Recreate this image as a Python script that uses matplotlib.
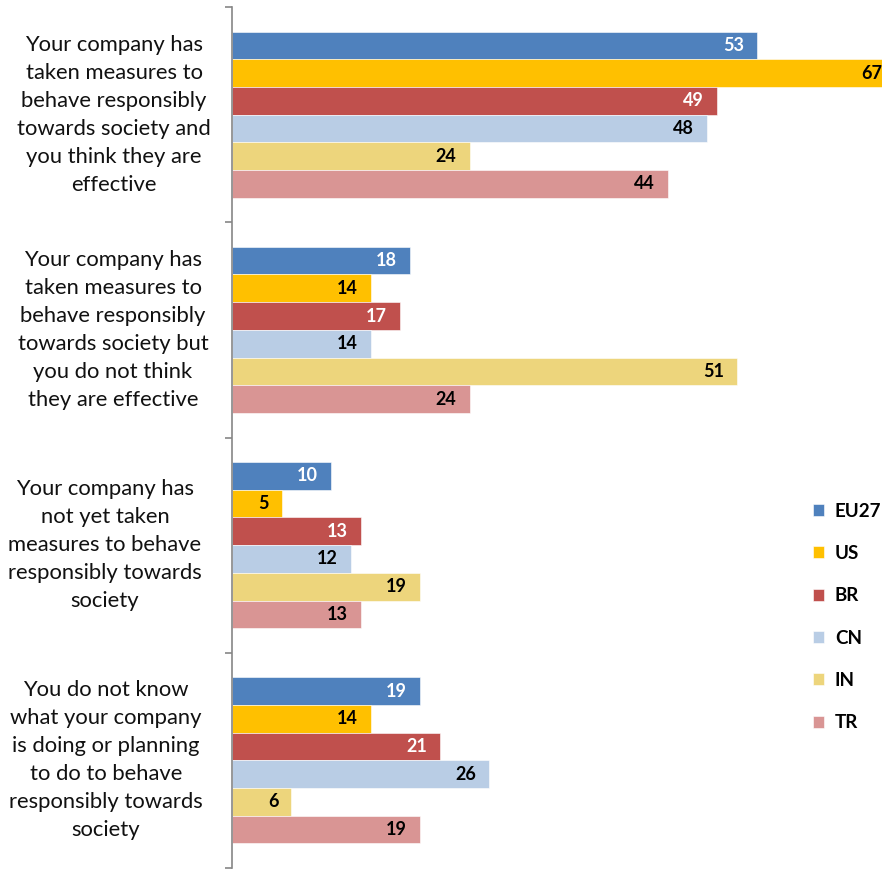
import matplotlib
matplotlib.use("Agg")
import matplotlib.pyplot as plt
import numpy as np

# ---------------------------------------------------------------------------
# Data
# ---------------------------------------------------------------------------

categories = [
    "Your company has\ntaken measures to\nbehave responsibly\ntowards society and\nyou think they are\neffective",
    "Your company has\ntaken measures to\nbehave responsibly\ntowards society but\nyou do not think\nthey are effective",
    "Your company has\nnot yet taken\nmeasures to behave\nresponsibly towards\nsociety",
    "You do not know\nwhat your company\nis doing or planning\nto do to behave\nresponsibly towards\nsociety",
]

series = ["EU27", "US", "BR", "CN", "IN", "TR"]

eu27 = [53, 18, 10, 19]
us = [67, 14, 5, 14]
br = [49, 17, 13, 21]
cn = [48, 14, 12, 26]
in_ = [24, 51, 19, 6]
tr = [44, 24, 13, 19]

values = [eu27, us, br, cn, in_, tr]
colors = ["#4F81BD", "#FFC000", "#C0504D", "#B9CDE5", "#EDD57C", "#D99594"]
label_colors = ["white", "black", "white", "black", "black", "black"]

# ---------------------------------------------------------------------------
# Figure
# ---------------------------------------------------------------------------

plt.rcParams["font.family"] = ["Lato", "DejaVu Sans"]

W, H = 882, 869
fig = plt.figure(figsize=(W / 100, H / 100), dpi=100)
ax = fig.add_axes([232 / W, 1 - 868 / H, 1 - 232 / W, (868 - 7) / H])

n = len(series)
bar_h = 0.772 / n
y = np.arange(len(categories))

for i, (name, vals) in enumerate(zip(series, values)):
    pos = y - 0.386 + bar_h * (i + 0.5)
    bars = ax.barh(pos, vals, height=bar_h, color=colors[i], label=name,
                   edgecolor="white", linewidth=0.4)
    for b, v in zip(bars, vals):
        ax.annotate(str(v), (v, b.get_y() + b.get_height() / 2),
                    xytext=(-13, 0), textcoords="offset pixels",
                    ha="right", va="center", fontsize=13, fontweight="bold",
                    color=label_colors[i], annotation_clip=False)

ax.set_xlim(0, 650 / 9.9)
ax.set_ylim(len(categories) - 0.5, -0.5)

for s in ["top", "right", "bottom"]:
    ax.spines[s].set_visible(False)
ax.spines["left"].set_color("#868686")
ax.spines["left"].set_linewidth(1.2)
ax.set_xticks([])
ax.set_yticks(np.arange(len(categories) + 1) - 0.5)
ax.set_yticklabels([])
ax.tick_params(axis="y", length=5, width=1.2, color="#868686")

# Category labels, centred left of the axis
label_x = [114, 113, 105, 106]
for cat, yc, lx in zip(categories, y, label_x):
    yd = ax.transData.transform((0, yc))[1]
    fig.text(lx / W, yd / H, cat, ha="center", va="center",
             fontsize=15.8, linespacing=1.5, color="#111111")

ax.legend(loc="center left", bbox_to_anchor=(805 / W, (H - 617) / H),
          bbox_transform=fig.transFigure, frameon=False,
          handlelength=0.6, handleheight=0.6, handletextpad=0.6,
          labelspacing=1.35, borderaxespad=0,
          prop={"weight": "bold", "size": 13.5})

fig.savefig("out.png", dpi=100)
